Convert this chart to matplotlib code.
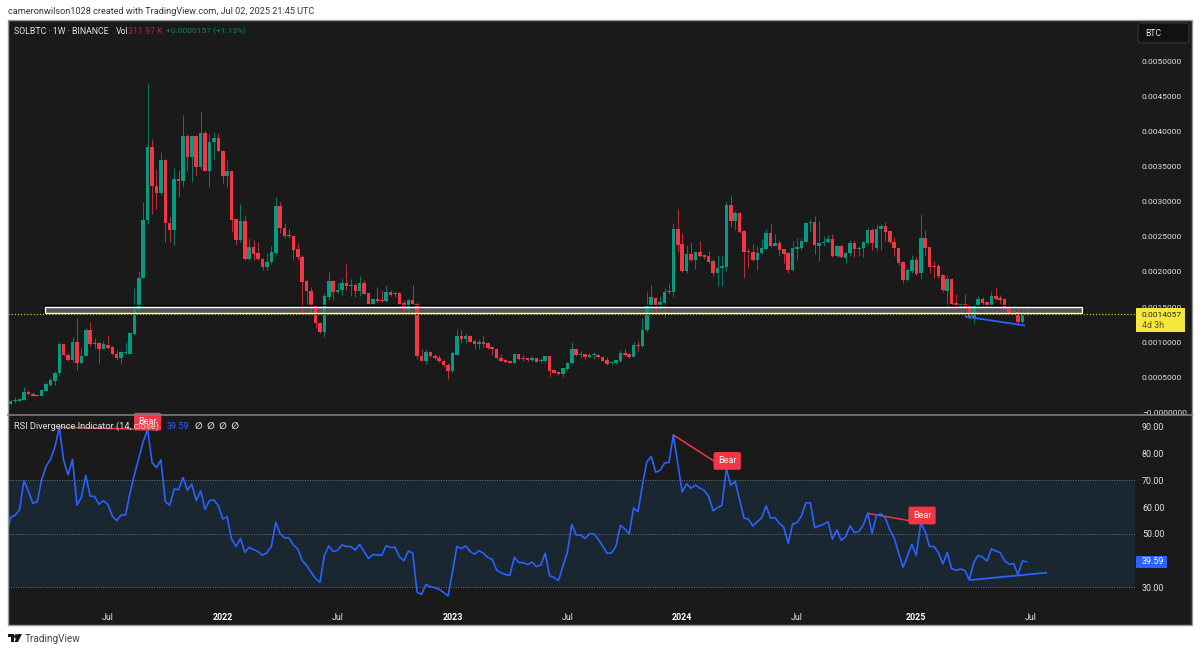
import numpy as np
from matplotlib import pyplot as plt
from matplotlib.patches import Rectangle, FancyBboxPatch, Polygon
from matplotlib.ticker import FixedLocator, FuncFormatter

plt.rcParams['font.family'] = ['Roboto', 'DejaVu Sans']

# weekly candles, prices in 1e-3 BTC
opens = [0.12,0.16,0.16,0.18,0.29,0.27,0.25,0.24,0.31,0.39,0.45,0.57,0.97,0.82,0.75,1.00,0.70,0.80,1.18,0.99,
         0.99,0.91,0.96,0.93,0.83,0.78,0.85,0.84,1.12,1.48,1.92,2.74,3.78,3.23,3.13,3.59,2.69,2.60,3.32,3.29,
         3.94,3.63,3.93,3.49,3.97,3.44,3.85,3.90,3.72,3.36,3.44,2.75,2.45,2.72,2.19,2.36,2.27,2.19,2.07,2.14,
         2.27,2.94,2.63,2.52,2.51,2.32,2.22,1.87,1.73,1.51,1.28,1.14,1.65,1.87,1.72,1.74,1.85,1.80,1.82,1.73,
         1.84,1.70,1.55,1.61,1.60,1.59,1.72,1.70,1.70,1.56,1.46,1.60,1.55,0.81,0.74,0.86,0.805,0.78,0.74,0.67,
         0.59,0.825,1.09,1.05,1.09,1.02,0.98,1.01,0.985,0.93,0.91,0.78,0.75,0.73,0.71,0.83,0.77,0.77,0.75,0.77,
         0.73,0.735,0.805,0.60,0.58,0.55,0.625,0.70,0.905,0.815,0.83,0.785,0.82,0.825,0.79,0.75,0.705,0.70,0.73,0.85,
         0.83,0.79,0.96,0.95,1.17,1.52,1.63,1.52,1.56,1.71,1.71,2.61,2.40,2.02,2.25,2.17,2.28,2.24,2.23,2.15,
         1.98,2.05,2.07,2.95,2.725,2.84,2.58,2.30,2.29,2.17,2.265,2.33,2.56,2.37,2.41,2.32,2.27,2.03,2.33,2.34,
         2.43,2.70,2.71,2.375,2.41,2.43,2.47,2.23,2.37,2.20,2.265,2.415,2.32,2.34,2.41,2.60,2.345,2.61,2.65,2.58,
         2.43,2.34,2.14,1.89,2.02,2.17,1.98,2.48,2.35,2.075,2.08,1.96,1.73,1.90,1.555,1.50,1.545,1.52,1.35,1.52,
         1.615,1.57,1.51,1.66,1.625,1.61,1.485,1.43,1.435,1.29,1.41]
highs = [0.18,0.22,0.21,0.36,0.32,0.29,0.25,0.34,0.43,0.49,0.59,1.00,0.98,0.85,1.08,1.35,0.92,1.20,1.29,1.06,
         1.00,1.02,1.10,0.95,0.89,0.88,1.00,1.15,1.77,2.01,3.00,4.67,3.89,3.46,3.70,3.60,2.78,3.48,3.45,4.24,
         3.96,3.95,3.95,4.29,4.00,3.96,3.99,3.97,3.73,3.59,3.44,2.76,2.97,2.81,2.48,2.45,2.42,2.20,2.27,2.37,
         3.07,2.99,2.69,2.61,2.53,2.41,2.24,1.89,1.78,1.53,1.29,1.70,2.00,1.89,1.85,1.91,2.12,1.90,1.85,1.95,
         1.89,1.70,1.62,1.78,1.75,1.82,1.74,1.72,1.71,1.60,1.61,1.81,1.58,0.91,0.905,0.87,0.84,0.82,0.76,0.71,
         0.87,1.19,1.18,1.13,1.10,1.04,1.04,1.10,1.00,0.94,0.92,0.84,0.76,0.74,0.84,0.84,0.82,0.78,0.80,0.78,
         0.77,0.81,0.81,0.605,0.59,0.64,0.72,1.01,0.92,0.87,0.84,0.85,0.86,0.83,0.80,0.79,0.73,0.75,0.885,0.905,
         0.84,1.00,1.02,1.35,1.72,1.82,1.65,1.66,1.77,1.85,2.69,2.89,2.56,2.38,2.42,2.29,2.44,2.25,2.30,2.18,
         2.24,2.24,2.99,3.09,2.87,2.85,2.60,2.34,2.40,2.37,2.47,2.61,2.69,2.535,2.46,2.32,2.28,2.445,2.49,2.49,
         2.71,2.75,2.80,2.73,2.51,2.52,2.54,2.38,2.38,2.275,2.455,2.44,2.37,2.44,2.62,2.62,2.68,2.68,2.71,2.59,
         2.50,2.36,2.15,2.05,2.24,2.21,2.82,2.60,2.36,2.15,2.12,1.97,1.96,1.91,1.69,1.56,1.69,1.55,1.54,1.66,
         1.65,1.59,1.72,1.78,1.67,1.63,1.54,1.53,1.48,1.435,1.48]
lows = [0.11,0.14,0.16,0.18,0.25,0.24,0.24,0.24,0.31,0.38,0.39,0.53,0.81,0.73,0.72,0.61,0.69,0.80,0.95,0.92,
        0.70,0.90,0.91,0.82,0.75,0.69,0.84,0.83,1.11,1.46,1.91,2.68,2.82,2.90,3.09,2.42,2.42,2.38,3.06,3.21,
        3.43,3.28,3.38,3.47,3.43,3.21,3.59,3.71,3.27,3.21,2.57,2.39,2.42,2.17,2.17,2.17,2.17,2.03,2.03,2.12,
        2.26,2.56,2.48,2.48,2.17,2.17,1.40,1.55,1.39,1.21,1.13,1.08,1.60,1.60,1.70,1.67,1.74,1.66,1.64,1.66,
        1.69,1.54,1.52,1.58,1.58,1.58,1.66,1.64,1.54,1.41,1.45,1.53,0.76,0.73,0.69,0.79,0.76,0.725,0.65,0.48,
        0.58,0.82,0.99,0.99,1.00,0.91,0.91,0.94,0.91,0.82,0.76,0.73,0.71,0.70,0.70,0.75,0.74,0.74,0.74,0.715,
        0.71,0.725,0.50,0.56,0.535,0.51,0.61,0.69,0.805,0.78,0.76,0.775,0.765,0.77,0.73,0.68,0.68,0.69,0.725,0.81,
        0.78,0.785,0.88,0.94,1.14,1.39,1.41,1.45,1.36,1.69,1.65,2.29,2.00,1.98,2.16,2.04,2.22,2.18,2.13,1.94,
        1.80,1.80,2.02,2.64,2.60,2.55,1.92,2.05,2.155,2.03,2.255,2.32,2.36,2.37,2.23,2.13,1.98,2.02,2.17,2.31,
        2.42,2.57,2.25,2.16,2.37,2.41,2.22,2.21,2.195,2.13,2.23,2.21,2.23,2.21,2.40,2.31,2.30,2.31,2.44,2.415,
        2.23,2.10,1.85,1.875,1.99,1.96,1.90,2.24,1.98,1.92,1.91,1.72,1.48,1.53,1.47,1.49,1.485,1.33,1.28,1.48,
        1.52,1.50,1.50,1.60,1.54,1.46,1.40,1.40,1.26,1.28,1.38]
closes = [0.17,0.18,0.20,0.29,0.26,0.24,0.24,0.32,0.41,0.46,0.57,0.97,0.82,0.75,1.00,0.70,0.81,1.18,0.98,0.98,
          0.91,0.97,0.92,0.83,0.78,0.86,0.86,1.13,1.48,1.92,2.74,3.78,3.23,3.13,3.59,2.69,2.60,3.32,3.29,3.94,
          3.63,3.93,3.49,3.97,3.44,3.85,3.90,3.72,3.36,3.44,2.74,2.45,2.72,2.19,2.36,2.26,2.18,2.07,2.14,2.28,
          2.94,2.63,2.51,2.51,2.31,2.21,1.86,1.73,1.51,1.28,1.14,1.66,1.87,1.72,1.75,1.85,1.80,1.82,1.73,1.84,
          1.69,1.55,1.61,1.59,1.59,1.72,1.67,1.68,1.55,1.48,1.60,1.55,0.80,0.74,0.86,0.80,0.77,0.735,0.67,0.59,
          0.85,1.09,1.05,1.09,1.01,0.98,1.01,0.975,0.92,0.90,0.77,0.74,0.715,0.71,0.83,0.76,0.765,0.75,0.77,0.725,
          0.735,0.805,0.59,0.57,0.55,0.635,0.71,0.90,0.815,0.83,0.785,0.825,0.83,0.79,0.74,0.69,0.71,0.745,0.85,0.82,
          0.79,0.96,0.95,1.17,1.52,1.64,1.52,1.57,1.71,1.715,2.61,2.38,2.02,2.25,2.17,2.28,2.23,2.21,2.14,1.98,
          2.06,2.085,2.95,2.725,2.84,2.57,2.29,2.285,2.17,2.265,2.335,2.56,2.37,2.41,2.31,2.26,2.03,2.335,2.355,2.44,
          2.70,2.705,2.38,2.41,2.43,2.47,2.23,2.37,2.21,2.265,2.41,2.32,2.345,2.42,2.60,2.41,2.61,2.65,2.57,2.43,
          2.335,2.13,1.89,2.03,2.17,1.97,2.48,2.34,2.07,2.065,1.95,1.74,1.90,1.545,1.51,1.545,1.50,1.35,1.53,1.62,
          1.565,1.51,1.66,1.615,1.60,1.475,1.42,1.44,1.29,1.405,1.405]

# RSI, starts one week before the first visible candle
rsi_vals = [49.6,56.2,57.0,59.0,69.9,66.1,61.5,62.0,70.2,75.2,77.9,82.4,89.9,77.4,72.1,77.9,60.8,63.7,71.9,64.1,
            64.0,61.1,62.5,61.0,56.7,55.0,57.1,57.1,65.2,72.1,78.3,84.5,89.1,76.7,74.8,77.7,62.1,60.7,66.8,66.6,
            71.1,66.4,68.6,62.5,66.1,59.2,62.5,62.7,60.6,55.6,56.4,48.1,45.3,48.3,43.1,45.0,44.1,43.4,42.0,43.0,
            45.3,54.4,50.0,48.6,48.5,45.9,44.3,40.0,38.2,35.7,33.4,31.9,42.0,45.5,43.4,43.9,45.9,45.3,45.3,44.0,
            46.1,43.4,40.8,42.3,42.1,42.0,45.6,44.9,45.0,41.5,
            40.0,43.6,42.8,28.2,27.4,31.1,30.3,29.9,29.3,28.1,26.8,35.9,45.3,44.5,45.5,43.5,42.4,43.8,42.8,41.2,
            40.5,36.5,35.5,34.8,34.5,41.3,39.3,39.3,38.5,39.5,37.8,38.4,42.8,34.3,33.7,32.6,38.0,43.0,53.6,49.6,
            49.6,48.3,50.0,50.1,48.0,45.5,42.8,42.9,45.3,53.2,51.9,50.0,59.7,58.3,68.3,77.0,79.0,73.1,73.8,76.5,
            76.7,87.0,76.4,65.7,68.7,67.1,68.3,67.1,66.3,64.0,58.7,59.8,60.7,74.3,68.2,69.6,62.7,55.9,55.5,53.0,
            54.6,56.1,60.5,55.9,56.1,54.0,52.5,46.5,53.7,54.2,
            56.7,61.6,61.7,52.4,53.0,53.6,54.6,48.1,51.5,47.6,49.0,53.0,50.5,50.9,53.4,57.7,50.2,57.1,57.5,55.9,
            51.5,48.4,42.8,37.5,41.8,46.1,41.9,54.2,50.9,45.3,45.3,43.0,38.8,43.0,37.0,36.4,36.9,36.3,32.8,39.3,
            42.0,41.3,39.9,44.4,43.6,43.0,39.9,38.7,38.9,34.8,39.9,39.59]

price_ticks = [0, 0.5, 1, 1.5, 2, 2.5, 3, 3.5, 4, 4.5, 5]
rsi_ticks = [30, 50, 60, 70, 80, 90]
date_ticks = [22, 48, 74, 100, 126, 152, 178, 205, 231]
date_labels = ["Jul", "2022", "Jul", "2023", "Jul", "2024", "Jul", "2025", "Jul"]
# week pairs of the bearish divergences and where their labels sit
bear_weeks = [(11, 31), (150, 162), (194, 206)]
bear_label_pos = [(31, 92.0), (162.2, 77.3), (206.3, 56.9)]
zone_low, zone_high = 1.417, 1.507
zone_weeks = (7.85, 242.5)
last_price = 1.4057
last_rsi = 39.59
price_trend_w = [216.2, 229.4]
price_trend_v = [1.365, 1.24]
rsi_trend_w = [217.4, 234.4]
rsi_trend_v = [32.8, 35.5]

GREEN = '#089981'
RED = '#f23645'
BLUE = '#2962ff'
BG = '#1a1a1a'
TXT = '#e2e2e2'
W, H = 1200, 652


def px(x, y):
    return x / W, 1 - y / H


def axes_at(x0, y0, x1, y1):
    left, top = px(x0, y0)
    right, bottom = px(x1, y1)
    return fig.add_axes([left, bottom, right - left, top - bottom])


def label(x, y, s, color=TXT, size=6.4, **kw):
    xx, yy = px(x, y)
    return fig.text(xx, yy, s, color=color, fontsize=size, va='center', **kw)


fig = plt.figure(figsize=(12, 6.52), dpi=100, facecolor='white')

# dark panel behind both panes, outline goes on top later
x0, y1 = px(8, 625)
x1, y0 = px(1192, 20)
fig.add_artist(Rectangle((x0, y1), x1 - x0, y0 - y1, transform=fig.transFigure,
                         facecolor=BG, edgecolor='none', zorder=-5))
fig.add_artist(Rectangle((x0, y1), x1 - x0, y0 - y1, transform=fig.transFigure,
                         facecolor='none', edgecolor='#9a9a9a', linewidth=1.0, zorder=2))

# price pane
ax = axes_at(8, 21, 1135, 414)
ax.set_facecolor(BG)
ax.set_xlim(-0.61, 254.5)
ax.set_ylim(-0.02, 5.57)

weeks = np.arange(len(closes))
o = np.array(opens)
h = np.array(highs)
l = np.array(lows)
c = np.array(closes)
colors = np.where(c >= o, GREEN, RED)
ax.vlines(weeks, l, h, colors=colors, linewidth=0.7, alpha=0.75, zorder=2)
body = np.maximum(np.abs(c - o), 0.014)
ax.bar(weeks, body, bottom=np.minimum(o, c), width=0.8, color=colors, linewidth=0, zorder=3)

# support zone: fill under the candles, black and white edges over them
zone_w = zone_weeks[1] - zone_weeks[0]
ax.add_patch(Rectangle((zone_weeks[0], zone_low), zone_w, zone_high - zone_low,
                       facecolor='#555555', edgecolor='none', zorder=1.5))
ax.add_patch(Rectangle((zone_weeks[0] - 0.3, zone_low - 0.018), zone_w + 0.6, zone_high - zone_low + 0.036,
                       facecolor='none', edgecolor='black', linewidth=0.9, zorder=3.5))
ax.add_patch(Rectangle((zone_weeks[0], zone_low), zone_w, zone_high - zone_low,
                       facecolor='none', edgecolor='white', linewidth=1.0, zorder=3.6))
ax.axhline(last_price, color='#c9bb2c', linestyle=(0, (1, 1.5)), linewidth=0.9, zorder=4)
ax.plot(price_trend_w, price_trend_v, color=BLUE, linewidth=1.3, zorder=5)

ax.yaxis.tick_right()
ax.yaxis.set_major_locator(FixedLocator(price_ticks))
ax.yaxis.set_major_formatter(FuncFormatter(lambda v, pos: f"{v / 1000:.7f}" if v > 0 else "\u22120.0000000"))
ax.tick_params(axis='y', length=0, pad=5, labelsize=6.0, labelcolor=TXT)
ax.tick_params(axis='x', bottom=False, labelbottom=False)
for s in ax.spines.values():
    s.set_visible(False)

# rsi pane
ax2 = axes_at(8, 416, 1135, 600)
ax2.set_facecolor(BG)
ax2.set_xlim(-0.61, 254.5)
ax2.set_ylim(25.3, 94.1)
ax2.axhspan(30, 70, color='#1a2630', linewidth=0, zorder=1)
for v in (30, 50, 70):
    ax2.axhline(v, color='#6f7278', linestyle=(0, (1, 1.5)), linewidth=0.7, zorder=1.5)

rsi_weeks = np.arange(len(rsi_vals)) - 1
ax2.plot(rsi_weeks, rsi_vals, color=BLUE, linewidth=1.2, zorder=3, solid_joinstyle='round')
for (a, b), (lx, ly) in zip(bear_weeks, bear_label_pos):
    ax2.plot([a, b], [rsi_vals[a + 1], rsi_vals[b + 1]], color=RED, linewidth=1.1, zorder=2.5)
    ax2.text(lx, ly, "Bear", color='white', fontsize=6.6, ha='center', va='center', zorder=6, clip_on=False,
             bbox=dict(boxstyle='round,pad=0.48,rounding_size=0.2', facecolor=RED, edgecolor='none'))
ax2.plot(rsi_trend_w, rsi_trend_v, color=BLUE, linewidth=1.3, zorder=3)

ax2.yaxis.tick_right()
ax2.yaxis.set_major_locator(FixedLocator(rsi_ticks))
ax2.yaxis.set_major_formatter(FuncFormatter(lambda v, pos: f"{v:.2f}"))
ax2.tick_params(axis='y', length=0, pad=5, labelsize=6.4, labelcolor=TXT)
ax2.set_xticks(date_ticks)
ax2.set_xticklabels(date_labels)
ax2.tick_params(axis='x', length=0, pad=9, labelsize=6.4, labelcolor=TXT)
for t in ax2.get_xticklabels():
    if t.get_text() != "Jul":
        t.set_fontweight('bold')
        t.set_color('white')
for s in ax2.spines.values():
    s.set_visible(False)

# pane separator
sx0, sy = px(8, 414.5)
sx1, _ = px(1192, 414.5)
fig.add_artist(plt.Line2D([sx0, sx1], [sy, sy], color='#7d7d7d', linewidth=1.2, zorder=2))

# header and legends
label(8, 11, "cameronwilson1028 created with TradingView.com, Jul 02, 2025 21:45 UTC", color='#333333', size=6.6)
label(14, 31.5, "SOLBTC \u00b7 1W \u00b7 BINANCE", size=6.3)
label(116, 31.5, "Vol", size=6.3)
label(128, 31.5, "311.97 K", color='#a52a3a', size=6.3)
label(166, 31.5, "+0.0000157 (+1.13%)", color='#12806b', size=6.0)
label(14, 426.5, "RSI Divergence Indicator (14, close)", size=6.7, zorder=8)
label(167, 426.5, "39.59", color=BLUE, size=6.4)
label(195, 426.5, "\u2205  \u2205  \u2205  \u2205", size=6.4, fontweight='bold')

# scale mode button
bx, by = px(1138, 43)
bw, bh = 51 / W, 20 / H
fig.add_artist(FancyBboxPatch((bx, by), bw, bh, boxstyle='round,pad=0,rounding_size=0.004',
                              transform=fig.transFigure, facecolor='#111111', edgecolor='#333333',
                              linewidth=0.9, zorder=2))
label(1145, 33.5, "BTC", size=6.2)

# last price tag
tx, ty = px(1136, 332)
fig.add_artist(Rectangle((tx, ty), 49 / W, 24 / H, transform=fig.transFigure,
                         facecolor='#f5e73c', edgecolor='none', zorder=2.5))
label(1142, 314.5, "0.0014057", color='#222222', size=6.0)
label(1142, 325, "4d 3h", color='#555522', size=6.4)

# last rsi tag
tx, ty = px(1136, 568)
fig.add_artist(Rectangle((tx, ty), 31 / W, 12.5 / H, transform=fig.transFigure,
                         facecolor=BLUE, edgecolor='none', zorder=2.5))
label(1142, 562, f"{last_rsi:.2f}", color='white', size=6.4)


# footer logo and name
def fig_poly(points):
    fig.add_artist(Polygon([px(*p) for p in points], closed=True, transform=fig.transFigure,
                           facecolor='#131722', edgecolor='none'))


fig_poly([(8, 634), (14, 634), (14, 642), (11, 642), (11, 637), (8, 637)])
fig_poly([(18, 634), (22, 634), (18, 642), (14.5, 642)])
fig.add_artist(plt.Line2D([px(15.8, 0)[0]], [px(0, 635.5)[1]], marker='o', markersize=2.4,
                          color='#131722', linestyle='none'))
label(25, 639, "TradingView", color='#444444', size=7.2)

plt.savefig("out.png", dpi=100)
